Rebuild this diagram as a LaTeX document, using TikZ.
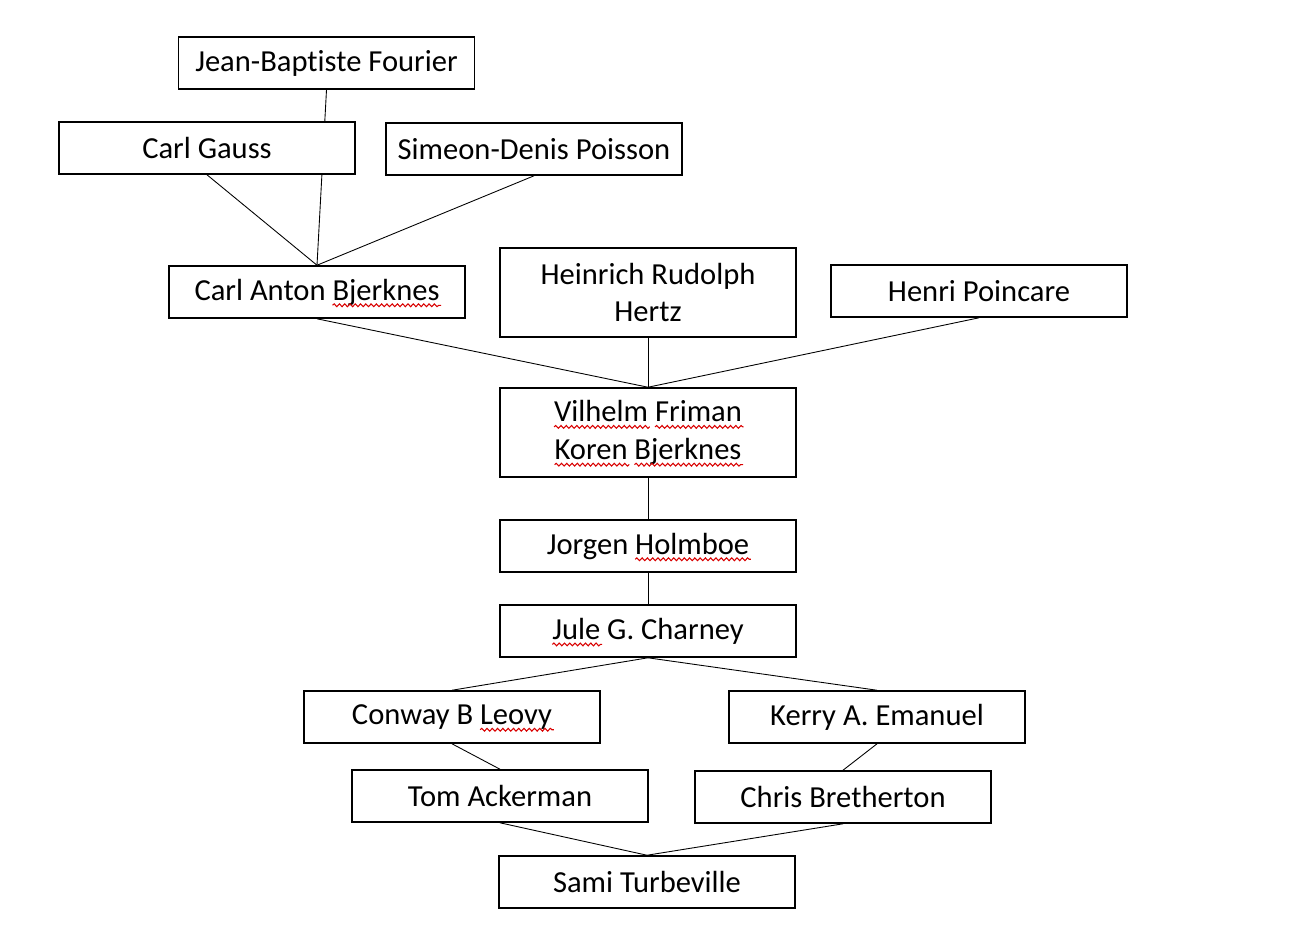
\documentclass[tikz,border=0pt]{standalone}
\usepackage{fontspec}
\setmainfont[Ligatures=NoCommon]{Carlito}
\usetikzlibrary{backgrounds,decorations.pathmorphing}

% red wavy mark under flagged words
\newcommand{\spellmark}[1]{\tikz[baseline=(w.base)]{%
  \node[draw=none,fill=none,inner sep=0pt,outer sep=0pt,minimum width=0pt,minimum height=0pt] (w) {#1};
  \draw[overlay,red!85!black,line width=0.6pt,decorate,decoration={snake,amplitude=0.8pt,segment length=3pt}]
    ([yshift=-3pt]w.base west) -- ([yshift=-3pt,xshift=1pt]w.base east);}}

\begin{document}
\begin{tikzpicture}[x=0.02cm,y=-0.02cm,
    person/.style={draw,fill=white,line width=0.9pt,minimum width=5.92cm,minimum height=1.04cm,
      inner sep=0pt,align=center,font=\fontsize{17.4}{21.5}\selectfont},
    tall/.style={minimum height=1.78cm},
    link/.style={line width=0.5pt}]
  \useasboundingbox (0,0) rectangle (1294,938);
  \node[person] (fourier) at (326.5,63) {Jean-Baptiste Fourier};
  \node[person] (gauss) at (207,148) {Carl Gauss};
  \node[person] (poisson) at (534,149) {Simeon-Denis Poisson};
  \node[person] (antonb) at (317,292) {Carl Anton \spellmark{Bjerknes}};
  \node[person,tall] (hertz) at (648,292.5) {Heinrich Rudolph\\Hertz};
  \node[person] (poincare) at (979,291) {Henri Poincare};
  \node[person,tall] (vilhelm) at (648,432.5) {\spellmark{Vilhelm} \spellmark{Friman}\\\spellmark{Koren} \spellmark{Bjerknes}};
  \node[person] (holmboe) at (648,546) {Jorgen \spellmark{Holmboe}};
  \node[person] (charney) at (648,631) {\spellmark{Jule} G. Charney};
  \node[person] (leovy) at (452,717) {Conway B \spellmark{Leovy}};
  \node[person] (emanuel) at (877,717) {Kerry A. Emanuel};
  \node[person] (ackerman) at (500,796) {Tom Ackerman};
  \node[person] (bretherton) at (843,797) {Chris Bretherton};
  \node[person] (sami) at (647,882) {Sami Turbeville};
  \begin{scope}[on background layer]
    \draw[link] (fourier.south) -- (antonb.north);
    \draw[link] (gauss.south) -- (antonb.north);
    \draw[link] (poisson.south) -- (antonb.north);
    \draw[link] (antonb.south) -- (vilhelm.north);
    \draw[link] (hertz.south) -- (vilhelm.north);
    \draw[link] (poincare.south) -- (vilhelm.north);
    \draw[link] (vilhelm.south) -- (holmboe.north);
    \draw[link] (holmboe.south) -- (charney.north);
    \draw[link] (charney.south) -- (leovy.north);
    \draw[link] (charney.south) -- (emanuel.north);
    \draw[link] (leovy.south) -- (ackerman.north);
    \draw[link] (emanuel.south) -- (bretherton.north);
    \draw[link] (ackerman.south) -- (sami.north);
    \draw[link] (bretherton.south) -- (sami.north);
  \end{scope}
\end{tikzpicture}
\end{document}
